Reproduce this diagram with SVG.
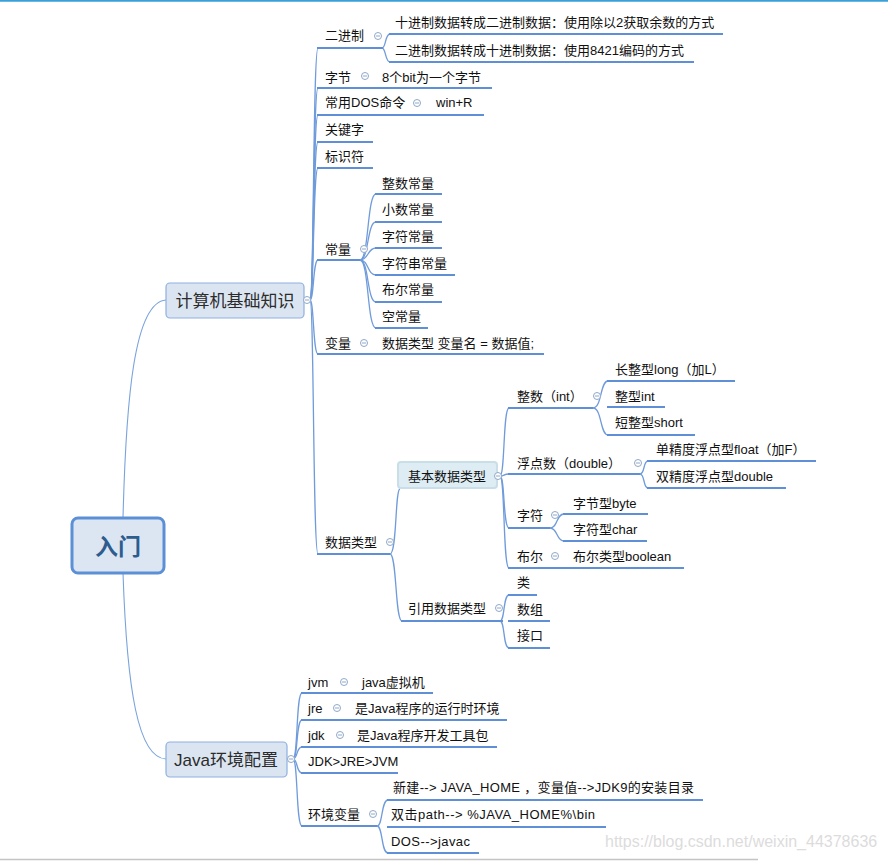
<svg xmlns="http://www.w3.org/2000/svg" width="888" height="861" viewBox="0 0 888 861">
<defs>
<style>
.t{font-family:"Liberation Sans","Noto Sans CJK SC",sans-serif;font-size:13px;fill:#111}
.bt{font-family:"Liberation Sans","Noto Sans CJK SC",sans-serif;font-size:17px;fill:#2b2b2b}
.ul{stroke:#5f8fd6;stroke-width:2;fill:none}
.cn{stroke:#6f9bdb;stroke-width:1.3;fill:none}
.mc{stroke:#7aa3dc;stroke-width:1.1;fill:none}
.box{fill:#dbe5f1;stroke:#8db0e0;stroke-width:1.2}
</style>
<g id="tog">
<circle cx="0" cy="0" r="3.5" fill="#fff" stroke="#8fa8c8" stroke-width="1"/>
<line x1="-2" y1="0" x2="2" y2="0" stroke="#8fa8c8" stroke-width="1"/>
</g>
</defs>
<rect x="0" y="0" width="888" height="861" fill="#fff"/>
<line x1="0" y1="0.8" x2="888" y2="0.8" stroke="#3aa0d8" stroke-width="1.8"/>
<line x1="0" y1="859.5" x2="758" y2="859.5" stroke="#c4c4c4" stroke-width="1.5"/>

<g id="connectors">
<path class="mc" d="M123,518 C126,400 134,302 166,300"/>
<path class="mc" d="M123,573 C127,690 138,758 166,759"/>
<path class="cn" d="M310,300 C314,300 313,48 318,48"/>
<path class="cn" d="M310,300 C314,300 313,88 318,88"/>
<path class="cn" d="M310,300 C314,300 313,115 318,115"/>
<path class="cn" d="M310,300 C314,300 313,142 318,142"/>
<path class="cn" d="M310,300 C314,300 313,168 318,168"/>
<path class="cn" d="M310,300 C314,300 313,260 318,260"/>
<path class="cn" d="M310,300 C314,300 313,354 318,354"/>
<path class="cn" d="M310,300 C314,300 313,554 318,554"/>
<path class="cn" d="M382,48 C386,48 385,34 390,34"/>
<path class="cn" d="M382,48 C386,48 385,62 390,62"/>
<path class="cn" d="M360,260 C369,260 367,194 376,194"/>
<path class="cn" d="M360,260 C369,260 367,222 376,222"/>
<path class="cn" d="M360,260 C369,260 367,248 376,248"/>
<path class="cn" d="M360,260 C369,260 367,275 376,275"/>
<path class="cn" d="M360,260 C369,260 367,302 376,302"/>
<path class="cn" d="M360,260 C369,260 367,328 376,328"/>
<path class="cn" d="M390,554 C397,554 395,489 400,489"/>
<path class="cn" d="M390,554 C397,554 395,621 402,621"/>
<path class="cn" d="M500,476 C505,476 503,408 509,408"/>
<path class="cn" d="M500,476 C505,476 503,474 509,474"/>
<path class="cn" d="M500,476 C505,476 503,528 509,528"/>
<path class="cn" d="M500,476 C505,476 503,568 509,568"/>
<path class="cn" d="M593,408 C602,408 600,381 608,381"/>
<path class="cn" d="M593,408 C602,408 600,435 608,435"/>
<path class="cn" d="M640,474 C645,474 643,461 648,461"/>
<path class="cn" d="M640,474 C645,474 643,488 648,488"/>
<path class="cn" d="M550,528 C558,528 556,514 564,514"/>
<path class="cn" d="M550,528 C558,528 556,541 564,541"/>
<path class="cn" d="M500,621 C505,621 503,595 509,595"/>
<path class="cn" d="M500,621 C505,621 503,648 509,648"/>
<path class="cn" d="M293,759 C298,759 296,693 302,693"/>
<path class="cn" d="M293,759 C298,759 296,720 302,720"/>
<path class="cn" d="M293,759 C298,759 296,747 302,747"/>
<path class="cn" d="M293,759 C298,759 296,773 302,773"/>
<path class="cn" d="M293,759 C298,759 296,826 302,826"/>
<path class="cn" d="M377,826 C383,826 381,800 388,800"/>
<path class="cn" d="M377,826 C383,826 381,853 388,853"/>
</g>

<g id="root">
<rect x="72" y="518" width="92" height="55" rx="6" fill="#dce6f2" stroke="#5b8fd6" stroke-width="3"/>
<text x="118" y="555" text-anchor="middle" font-family="'Liberation Sans','Noto Sans CJK SC',sans-serif" font-size="23" font-weight="bold" fill="#2d5c8f">入门</text>
</g>

<g id="n-jisuanji">
<rect class="box" x="166" y="283" width="138" height="35" rx="4"/>
<text class="bt" x="235" y="307" text-anchor="middle">计算机基础知识</text>
<use href="#tog" x="307" y="300"/>
</g>

<g id="n-erjinzhi">
<line class="ul" x1="317" y1="48" x2="383" y2="48"/>
<text class="t" x="325" y="40">二进制</text>
<use href="#tog" x="378" y="36"/>
</g>
<g id="n-erjinzhi-1">
<line class="ul" x1="389" y1="34" x2="723" y2="34"/>
<text class="t" x="395" y="27">十进制数据转成二进制数据：使用除以2获取余数的方式</text>
</g>
<g id="n-erjinzhi-2">
<line class="ul" x1="389" y1="62" x2="694" y2="62"/>
<text class="t" x="395" y="55">二进制数据转成十进制数据：使用8421编码的方式</text>
</g>

<g id="n-zijie">
<line class="ul" x1="317" y1="88" x2="492" y2="88"/>
<text class="t" x="325" y="82">字节</text>
<use href="#tog" x="365" y="76"/>
<text class="t" x="382" y="82">8个bit为一个字节</text>
</g>

<g id="n-dos">
<line class="ul" x1="317" y1="115" x2="484" y2="115"/>
<text class="t" x="325" y="107">常用DOS命令</text>
<use href="#tog" x="417" y="103"/>
<text class="t" x="436" y="107">win+R</text>
</g>

<g id="n-guanjianzi">
<line class="ul" x1="317" y1="142" x2="373" y2="142"/>
<text class="t" x="325" y="134">关键字</text>
</g>
<g id="n-biaoshifu">
<line class="ul" x1="317" y1="168" x2="373" y2="168"/>
<text class="t" x="325" y="161">标识符</text>
</g>

<g id="n-changliang">
<line class="ul" x1="317" y1="260" x2="360" y2="260"/>
<text class="t" x="325" y="254">常量</text>
<use href="#tog" x="364" y="249"/>
</g>
<g id="n-cl-1"><line class="ul" x1="375" y1="194" x2="442" y2="194"/><text class="t" x="382" y="188">整数常量</text></g>
<g id="n-cl-2"><line class="ul" x1="375" y1="222" x2="442" y2="222"/><text class="t" x="382" y="214">小数常量</text></g>
<g id="n-cl-3"><line class="ul" x1="375" y1="248" x2="442" y2="248"/><text class="t" x="382" y="241">字符常量</text></g>
<g id="n-cl-4"><line class="ul" x1="375" y1="275" x2="455" y2="275"/><text class="t" x="382" y="268">字符串常量</text></g>
<g id="n-cl-5"><line class="ul" x1="375" y1="302" x2="442" y2="302"/><text class="t" x="382" y="294">布尔常量</text></g>
<g id="n-cl-6"><line class="ul" x1="375" y1="328" x2="428" y2="328"/><text class="t" x="382" y="321">空常量</text></g>

<g id="n-bianliang">
<line class="ul" x1="317" y1="354" x2="544" y2="354"/>
<text class="t" x="325" y="348">变量</text>
<use href="#tog" x="364" y="343"/>
<text class="t" x="382" y="348">数据类型 变量名 = 数据值;</text>
</g>

<g id="n-shujuleixing">
<line class="ul" x1="317" y1="554" x2="390" y2="554"/>
<text class="t" x="325" y="547">数据类型</text>
<use href="#tog" x="390" y="542"/>
</g>

<g id="n-jiben">
<rect x="398" y="462" width="99" height="26" rx="3" fill="#deecf3" stroke="#c9dee9" stroke-width="2"/>
<text class="t" x="408" y="481">基本数据类型</text>
<use href="#tog" x="498" y="476"/>
</g>

<g id="n-zhengshu">
<line class="ul" x1="508" y1="408" x2="593" y2="408"/>
<text class="t" x="517" y="401">整数（int）</text>
<use href="#tog" x="597" y="396"/>
</g>
<g id="n-zs-1"><line class="ul" x1="607" y1="381" x2="735" y2="381"/><text class="t" x="615" y="374">长整型long（加L）</text></g>
<g id="n-zs-2"><line class="ul" x1="607" y1="407" x2="665" y2="407"/><text class="t" x="615" y="401">整型int</text></g>
<g id="n-zs-3"><line class="ul" x1="607" y1="435" x2="695" y2="435"/><text class="t" x="615" y="427">短整型short</text></g>

<g id="n-fudian">
<line class="ul" x1="508" y1="474" x2="640" y2="474"/>
<text class="t" x="517" y="468">浮点数（double）</text>
<use href="#tog" x="638" y="463"/>
</g>
<g id="n-fd-1"><line class="ul" x1="647" y1="461" x2="816" y2="461"/><text class="t" x="656" y="454">单精度浮点型float（加F）</text></g>
<g id="n-fd-2"><line class="ul" x1="647" y1="488" x2="786" y2="488"/><text class="t" x="656" y="481">双精度浮点型double</text></g>

<g id="n-zifu">
<line class="ul" x1="508" y1="528" x2="550" y2="528"/>
<text class="t" x="517" y="520">字符</text>
<use href="#tog" x="555" y="515"/>
</g>
<g id="n-zf-1"><line class="ul" x1="563" y1="514" x2="648" y2="514"/><text class="t" x="573" y="508">字节型byte</text></g>
<g id="n-zf-2"><line class="ul" x1="563" y1="541" x2="647" y2="541"/><text class="t" x="573" y="534">字符型char</text></g>

<g id="n-buer">
<line class="ul" x1="508" y1="568" x2="684" y2="568"/>
<text class="t" x="517" y="561">布尔</text>
<use href="#tog" x="555" y="556"/>
<text class="t" x="573" y="561">布尔类型boolean</text>
</g>

<g id="n-yinyong">
<line class="ul" x1="401" y1="621" x2="503" y2="621"/>
<text class="t" x="408" y="613">引用数据类型</text>
<use href="#tog" x="499" y="608"/>
</g>
<g id="n-yy-1"><line class="ul" x1="508" y1="595" x2="537" y2="595"/><text class="t" x="517" y="587">类</text></g>
<g id="n-yy-2"><line class="ul" x1="508" y1="621" x2="550" y2="621"/><text class="t" x="517" y="614">数组</text></g>
<g id="n-yy-3"><line class="ul" x1="508" y1="648" x2="550" y2="648"/><text class="t" x="517" y="640">接口</text></g>

<g id="n-java">
<rect class="box" x="166" y="742" width="121" height="35" rx="4"/>
<text class="bt" x="226" y="766" text-anchor="middle">Java环境配置</text>
<use href="#tog" x="291" y="759"/>
</g>

<g id="n-jvm">
<line class="ul" x1="301" y1="693" x2="433" y2="693"/>
<text class="t" x="308" y="687">jvm</text>
<use href="#tog" x="344" y="682"/>
<text class="t" x="362" y="687">java虚拟机</text>
</g>
<g id="n-jre">
<line class="ul" x1="301" y1="720" x2="507" y2="720"/>
<text class="t" x="308" y="713">jre</text>
<use href="#tog" x="337" y="708"/>
<text class="t" x="355" y="713">是Java程序的运行时环境</text>
</g>
<g id="n-jdk">
<line class="ul" x1="301" y1="747" x2="497" y2="747"/>
<text class="t" x="308" y="740">jdk</text>
<use href="#tog" x="340" y="735"/>
<text class="t" x="357" y="740">是Java程序开发工具包</text>
</g>
<g id="n-jdkjrejvm">
<line class="ul" x1="301" y1="773" x2="398" y2="773"/>
<text class="t" x="308" y="766">JDK&gt;JRE&gt;JVM</text>
</g>
<g id="n-huanjing">
<line class="ul" x1="301" y1="826" x2="377" y2="826"/>
<text class="t" x="308" y="819">环境变量</text>
<use href="#tog" x="373" y="814"/>
</g>
<g id="n-hj-1"><line class="ul" x1="387" y1="800" x2="703" y2="800"/><text class="t" x="393" y="792" textLength="301" lengthAdjust="spacing">新建--&gt; JAVA_HOME ，变量值--&gt;JDK9的安装目录</text></g>
<g id="n-hj-2"><line class="ul" x1="387" y1="827" x2="606" y2="827"/><text class="t" x="391" y="819" textLength="204" lengthAdjust="spacing">双击path--&gt; %JAVA_HOME%\bin</text></g>
<g id="n-hj-3"><line class="ul" x1="387" y1="853" x2="479" y2="853"/><text class="t" x="391" y="846" textLength="79" lengthAdjust="spacing">DOS--&gt;javac</text></g>

<text x="605" y="847" font-family="'Liberation Sans',sans-serif" font-size="16" fill="#dcdcdc">https://blog.csdn.net/weixin_44378636</text>
</svg>
